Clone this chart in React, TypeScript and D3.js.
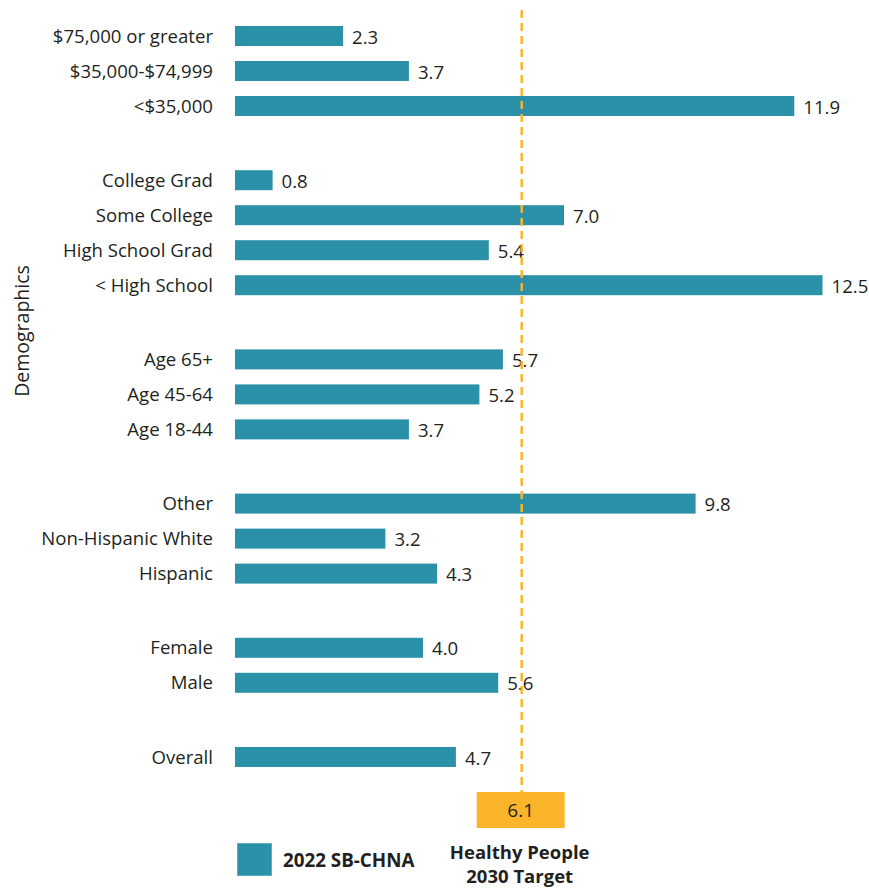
import React from "react";
import * as d3 from "d3";

const categories = [
  "$75,000 or greater",
  "$35,000-$74,999",
  "<$35,000",
  "College Grad",
  "Some College",
  "High School Grad",
  "< High School",
  "Age 65+",
  "Age 45-64",
  "Age 18-44",
  "Other",
  "Non-Hispanic White",
  "Hispanic",
  "Female",
  "Male",
  "Overall",
];
const groups = [0, 0, 0, 1, 1, 1, 1, 2, 2, 2, 3, 3, 3, 4, 4, 5];
const values = [2.3, 3.7, 11.9, 0.8, 7.0, 5.4, 12.5, 5.7, 5.2, 3.7, 9.8, 3.2, 4.3, 4.0, 5.6, 4.7];
const target = 6.1;
const seriesName = "2022 SB-CHNA";
const targetLabel = ["Healthy People", "2030 Target"];
const axisTitle = "Demographics";

const W = 869;
const H = 888;
const BAR = "#2B91A9";
const ORANGE = "#FBB52B";
const TEXT = "#231F20";
const FONT = "'Open Sans', 'Noto Sans', sans-serif";

export default function App() {
  // slot index with extra gap between groups
  const slots: number[] = [];
  let s = 0;
  categories.forEach((_, i) => {
    if (i > 0) s += groups[i] !== groups[i - 1] ? 2.12 : 1;
    slots.push(s);
  });
  const y = d3.scaleLinear().domain([0, slots[slots.length - 1]]).range([36, 757]);
  const x = d3.scaleLinear().domain([0, 12.5]).range([235, 822.5]);
  const barH = 20;
  const tx = x(target);

  return (
    <svg width={W} height={H} style={{ position: "absolute", left: 0, top: 0, background: "#fff" }} fontFamily={FONT}>
      <rect width={W} height={H} fill="#fff" />
      {categories.map((c, i) => (
        <g key={c}>
          <rect x={x(0)} y={y(slots[i]) - barH / 2} width={x(values[i]) - x(0)} height={barH} fill={BAR} />
          <text x={213} y={y(slots[i])} dy="0.35em" textAnchor="end" fontSize={18.6} fill={TEXT}>
            {c}
          </text>
          <text x={x(values[i]) + 9} y={y(slots[i]) + 1} dy="0.35em" fontSize={18.6} fill={TEXT}>
            {values[i].toFixed(1)}
          </text>
        </g>
      ))}
      <line x1={tx} x2={tx} y1={10} y2={792} stroke={ORANGE} strokeWidth={2.5} strokeDasharray="8,5" />
      <rect x={tx - 45} y={792} width={88} height={36} fill={ORANGE} />
      <text x={tx - 1} y={810} dy="0.35em" textAnchor="middle" fontSize={19} fill={TEXT}>
        {target.toFixed(1)}
      </text>
      <text x={tx - 2} y={853} dy="0.35em" textAnchor="middle" fontSize={18.5} fontWeight="bold" fill={TEXT}>
        {targetLabel[0]}
      </text>
      <text x={tx - 2} y={877} dy="0.35em" textAnchor="middle" fontSize={18.5} fontWeight="bold" fill={TEXT}>
        {targetLabel[1]}
      </text>
      <rect x={237.5} y={843.5} width={34} height={32} fill={BAR} stroke="#5AAEC0" strokeWidth={1} />
      <text x={283} y={860} dy="0.35em" fontSize={18.8} fontWeight="bold" fill={TEXT}>
        {seriesName}
      </text>
      <text transform="translate(22,331) rotate(-90)" textAnchor="middle" dy="0.35em" fontSize={19.5} fill={TEXT}>
        {axisTitle}
      </text>
    </svg>
  );
}
